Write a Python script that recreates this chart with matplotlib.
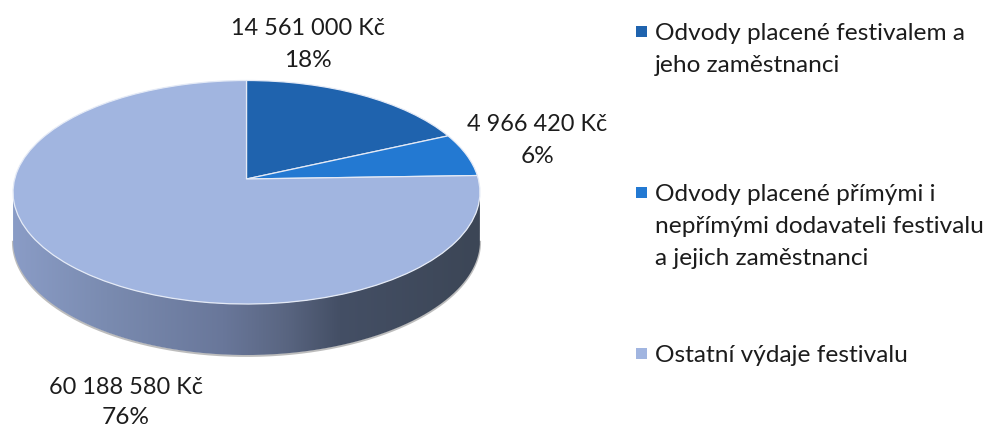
import numpy as np
import matplotlib
matplotlib.use("Agg")
import matplotlib.pyplot as plt
from matplotlib.colors import LinearSegmentedColormap
from matplotlib.patches import PathPatch, Rectangle
from matplotlib.path import Path
from matplotlib.transforms import Transform

# Data
values = [14561000, 4966420, 60188580]
value_labels = ["14 561 000 Kč", "4 966 420 Kč", "60 188 580 Kč"]
percent_labels = ["18%", "6%", "76%"]
legend_lines = [
    ["Odvody placené festivalem a", "jeho zaměstnanci"],
    ["Odvody placené přímými i", "nepřímými dodavateli festivalu", "a jejich zaměstnanci"],
    ["Ostatní výdaje festivalu"],
]
colors = ["#1f63ae", "#2379d2", "#a1b5e0"]

# Layout (pixels)
CX, CY = 246.5, 180.0
A, B, K = 231.8, 110.2, 0.1186
DEPTH = 49
FONT = "Lato"
FS = 17.6
FS_VALUE = 16.9
TXT = "#1c1c1c"
label_pos = [(308, 28.5), (537, 124.5), (126, 388)]
legend_y = [33.5, 194.5, 355.5]
LINE = 32.0


class Perspective(Transform):
    """Tilted-disc projection of the unit pie into pixel coordinates."""
    input_dims = output_dims = 2
    is_affine = False

    def transform_non_affine(self, xy):
        xy = np.asarray(xy, float)
        w = 1 + K * xy[:, 1]
        return np.column_stack([CX + A * xy[:, 0] / w, CY - B * xy[:, 1] / w])

    def transform_path_non_affine(self, path):
        return Path(self.transform_non_affine(path.vertices), path.codes)

    def inverted(self):
        raise NotImplementedError


fig = plt.figure(figsize=(9.92, 4.27), dpi=100)
ax = fig.add_axes([0, 0, 1, 1])
persp = Perspective()

wedges, _ = ax.pie(values, colors=colors, startangle=90, counterclock=False,
                   radius=1, wedgeprops=dict(edgecolor="#e4eaf6", linewidth=0.9))
for w in wedges:
    w.set_transform(persp + ax.transData)
    w.set_zorder(5)

ax.set_aspect("auto")
ax.set_xlim(0, 992)
ax.set_ylim(427, 0)
ax.axis("off")

# Side wall of the disc
t = np.linspace(0, 2 * np.pi, 1441)
rim = persp.transform_non_affine(np.column_stack([np.cos(t), np.sin(t)]))
lower = rim[rim[:, 1] >= CY + 13]
lower = lower[np.argsort(lower[:, 0])]
floor_y = lower[:, 1] + DEPTH + 2.0 * (1 - ((lower[:, 0] - CX) / A) ** 2)
wall = np.vstack([lower, np.column_stack([lower[:, 0], floor_y])[::-1]])
wall_path = PathPatch(Path(np.vstack([wall, wall[:1]])), transform=ax.transData,
                      facecolor="none", edgecolor="none")
ax.add_patch(wall_path)
ax.plot(lower[:, 0], floor_y + 0.8, color="#bdbdbd", lw=1.6, zorder=1)
cmap = LinearSegmentedColormap.from_list("wall", [
    (0.00, "#8a9cc6"), (0.20, "#7a8bb0"), (0.45, "#69779a"),
    (0.58, "#5a6682"), (0.70, "#444f65"), (1.00, "#3c4656")])
im = ax.imshow(np.linspace(0, 1, 256)[None, :], cmap=cmap, aspect="auto",
               extent=(lower[0, 0], lower[-1, 0], 427, 0), zorder=2)
im.set_clip_path(wall_path)
ax.set_xlim(0, 992)
ax.set_ylim(427, 0)

# Data labels
for (x, y), v, p in zip(label_pos, value_labels, percent_labels):
    ax.text(x, y, v, ha="center", va="center", family=FONT, fontsize=FS_VALUE, color=TXT, zorder=6)
    ax.text(x, y + LINE - (2 if y > 300 else 0), p, ha="center", va="center", family=FONT,
            fontsize=FS, color=TXT, zorder=6)

# Legend
for y0, lines, c in zip(legend_y, legend_lines, colors):
    ax.add_patch(Rectangle((636, y0 - 7), 11, 11, facecolor=c, edgecolor="none", zorder=6))
    for i, s in enumerate(lines):
        ax.text(655, y0 + i * LINE, s, ha="left", va="center", family=FONT,
                fontsize=FS, color=TXT, zorder=6)

fig.savefig("out.png", dpi=100, facecolor="white")
